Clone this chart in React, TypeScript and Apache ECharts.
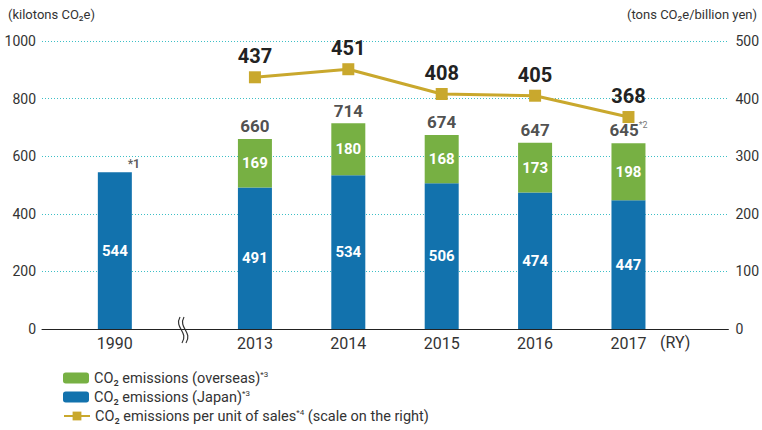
import React, { useEffect, useRef } from "react";
import * as echarts from "echarts";

const years = ["1990", "2013", "2014", "2015", "2016", "2017"];
const xPos = [0, 1.5, 2.5, 3.5, 4.5, 5.5];
const japan = [544, 491, 534, 506, 474, 447];
const overseas = [null, 169, 180, 168, 173, 198];
const totals = [544, 660, 714, 674, 647, 645];
const notes = ["*1", "", "", "", "", "*2"];
const perUnit = [null, 437, 451, 408, 405, 368];

const FONT = "Roboto";

export default function App() {
  const ref = useRef<HTMLDivElement>(null);
  useEffect(() => {
    document.body.style.margin = "0";
    if (!ref.current) return;
    const chart = echarts.init(ref.current, null, { renderer: "svg" });
    const nameOverseas = "CO₂ emissions (overseas)";
    const nameJapan = "CO₂ emissions (Japan)";
    const nameUnit = "CO₂ emissions per unit of sales";
    const legendText = {
      color: "#333",
      fontSize: 14.5,
      fontFamily: FONT,
      rich: {
        sup: { fontSize: 8, color: "#333", verticalAlign: "top", padding: [0, 0, 8, 0] },
      },
    };
    const legendFormatter = (name: string) => {
      if (name === nameUnit) return name + "{sup|*4} (scale on the right)";
      return name + "{sup|*3}";
    };
    const legendBase = {
      orient: "vertical",
      left: 63,
      itemWidth: 26,
      itemHeight: 11,
      padding: 0,
      textStyle: legendText,
      formatter: legendFormatter,
    };
    chart.setOption({
      animation: false,
      textStyle: { fontFamily: FONT },
      grid: { left: 42, right: 32, top: 41, bottom: 101, containLabel: false },
      xAxis: {
        type: "value",
        min: -0.78,
        max: 6.57,
        splitLine: { show: false },
        axisTick: { show: false },
        axisLine: { show: true, onZero: false, lineStyle: { color: "#222", width: 1 } },
        axisLabel: {
          customValues: xPos,
          formatter: (v: number) => {
            const i = xPos.indexOf(v);
            return i >= 0 ? years[i] : "";
          },
          color: "#333",
          fontSize: 16,
          margin: 6,
          fontFamily: FONT,
        },
      },
      yAxis: [
        {
          type: "value",
          min: 0,
          max: 1000,
          interval: 200,
          axisLine: { show: false },
          axisTick: { show: false },
          axisLabel: {
            color: "#333",
            fontSize: 14,
            margin: 6,
            formatter: (v: number) => String(v),
          },
          splitLine: {
            show: true,
            lineStyle: { color: "#3cbfc6", type: [1, 2], width: 1 },
          },
        },
        {
          type: "value",
          min: 0,
          max: 500,
          interval: 100,
          position: "right",
          axisLine: { show: false },
          axisTick: { show: false },
          splitLine: { show: false },
          axisLabel: {
            color: "#333",
            fontSize: 14,
            margin: 7,
            formatter: (v: number) => String(v),
          },
        },
      ],
      legend: [
        { ...legendBase, top: 370, data: [nameOverseas] },
        { ...legendBase, top: 389, data: [nameJapan] },
        { ...legendBase, top: 408, data: [nameUnit] },
      ],
      graphic: [
        {
          type: "text",
          x: 8,
          y: 8,
          style: { text: "(kilotons CO₂e)", fill: "#333", fontSize: 13, fontFamily: FONT },
        },
        {
          type: "text",
          x: 757,
          y: 8,
          style: {
            text: "(tons CO₂e/billion yen)",
            fill: "#333",
            fontSize: 13,
            fontFamily: FONT,
            align: "right",
          },
        },
        {
          type: "text",
          x: 660,
          y: 334,
          style: { text: "(RY)", fill: "#333", fontSize: 16, fontFamily: FONT },
        },
        {
          type: "bezierCurve",
          shape: { x1: 180, y1: 317, cpx1: 174, cpy1: 328, cpx2: 189, cpy2: 332, x2: 182, y2: 343 },
          style: { stroke: "#333", lineWidth: 1.2, fill: null },
        },
        {
          type: "bezierCurve",
          shape: { x1: 184, y1: 317, cpx1: 178, cpy1: 328, cpx2: 193, cpy2: 332, x2: 186, y2: 343 },
          style: { stroke: "#333", lineWidth: 1.2, fill: null },
        },
      ],
      series: [
        {
          name: nameJapan,
          type: "bar",
          stack: "co2",
          barWidth: 34,
          itemStyle: { color: "#1272ad" },
          encode: { x: 1, y: 0 },
          data: xPos.map((x, i) => [japan[i], x]),
          label: {
            show: true,
            position: "inside",
            color: "#fff",
            fontSize: 15,
            fontWeight: "bold",
            fontFamily: FONT,
            formatter: (p: any) => String(japan[p.dataIndex]),
          },
        },
        {
          name: nameOverseas,
          type: "bar",
          stack: "co2",
          barWidth: 34,
          itemStyle: { color: "#77b043" },
          encode: { x: 1, y: 0 },
          data: xPos.map((x, i) => [overseas[i], x]),
          label: {
            show: true,
            position: "inside",
            color: "#fff",
            fontSize: 15,
            fontWeight: "bold",
            fontFamily: FONT,
            formatter: (p: any) => {
              const v = overseas[p.dataIndex];
              return v == null ? "" : String(v);
            },
          },
        },
        {
          name: "totals",
          type: "scatter",
          symbolSize: 0,
          silent: true,
          data: xPos.map((x, i) => ({
            value: [x, totals[i]],
            label: i === 0 ? { offset: [19, 2] } : {},
          })),
          label: {
            show: true,
            position: "top",
            distance: 4,
            formatter: (p: any) => {
              const i = p.dataIndex;
              if (i === 0) return "{n|" + notes[i] + "}";
              return "{t|" + totals[i] + "}" + (notes[i] ? "{s|" + notes[i] + "}" : "");
            },
            rich: {
              t: { fontSize: 17, fontWeight: "bold", color: "#222", fontFamily: FONT },
              s: { fontSize: 9, color: "#555", verticalAlign: "top", padding: [0, 0, 10, 0] },
              n: { fontSize: 12, fontWeight: "bold", color: "#333" },
            },
          },
        },
        {
          name: nameUnit,
          type: "line",
          yAxisIndex: 1,
          data: xPos.map((x, i) => [x, perUnit[i]]).filter((d) => d[1] != null),
          lineStyle: { color: "#c9a82d", width: 3 },
          itemStyle: { color: "#c9a82d" },
          symbol: "rect",
          symbolSize: 12,
          label: {
            show: true,
            position: "top",
            distance: 5,
            color: "#222",
            fontSize: 20,
            fontWeight: "bold",
            fontFamily: FONT,
            formatter: (p: any) => String(p.value[1]),
          },
        },
      ],
    });
    return () => chart.dispose();
  }, []);
  return <div ref={ref} style={{ width: 762, height: 430 }} />;
}
